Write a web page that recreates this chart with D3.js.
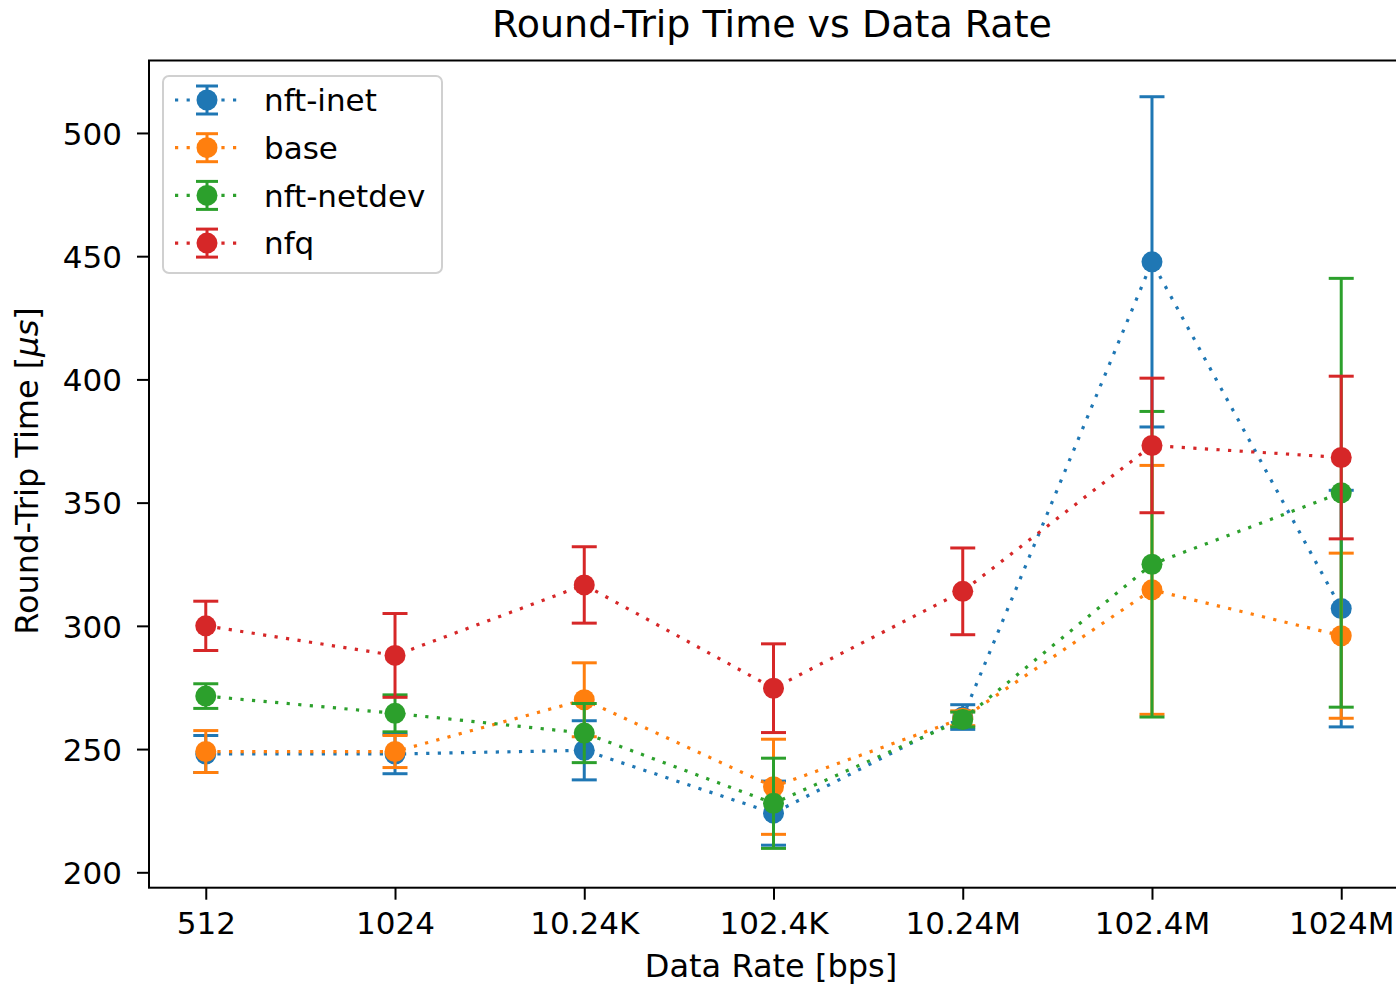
<!DOCTYPE html>
<html>
<head>
<meta charset="utf-8">
<script src="https://cdn.jsdelivr.net/npm/d3@7"></script>
<style>
  html, body { margin: 0; padding: 0; background: #fff; }
  svg { display: block; font-family: "DejaVu Sans", sans-serif; }
</style>
</head>
<body>
<svg id="chart" width="1396" height="984"></svg>
<script>
const categories = ["512", "1024", "10.24K", "102.4K", "10.24M", "102.4M", "1024M"];
const seriesNames = ["nft-inet", "base", "nft-netdev", "nfq"];
const seriesColors = ["#1f77b4", "#ff7f0e", "#2ca02c", "#d62728"];
const nftInet = [248, 248, 249.5, 224, 263, 447.7, 307];
const nftInetErr = [7.5, 8, 12, 13, 5, 67, 48];
const base = [249, 249, 270, 234.7, 262.5, 314.6, 296];
const baseErr = [8.5, 6.5, 15, 19.3, 3, 50.5, 33.5];
const nftNetdev = [271.5, 264.5, 256.5, 228, 262, 325, 354];
const nftNetdevErr = [5, 7.5, 12, 18.3, 3, 62, 87];
const nfq = [300, 288, 316.6, 274.7, 314, 373.2, 368.3];
const nfqErr = [10, 17, 15.5, 18, 17.6, 27.3, 33];
const yTicks = [200, 250, 300, 350, 400, 450, 500];

(function () {
const seriesValues = [nftInet, base, nftNetdev, nfq];
const seriesErrors = [nftInetErr, baseErr, nftNetdevErr, nfqErr];

const svg = d3.select("#chart");
const pLeft = 149, pRight = 1398, pTop = 60.5, pBottom = 887.7;

const x = d3.scalePoint().domain(categories).range([pLeft, pRight]).padding(0.3);
const y = d3.scaleLinear().domain([193.75, 529.4]).range([pBottom, pTop]);

const capHalf = 12.5, markerR = 10.5;
seriesNames.forEach((name, si) => {
  const color = seriesColors[si];
  const vals = seriesValues[si], errs = seriesErrors[si];
  const g = svg.append("g");
  const pts = categories.map((c, i) => ({ c, v: vals[i], e: errs[i] }));
  pts.forEach(p => {
    const cx = x(p.c);
    g.append("line").attr("x1", cx).attr("x2", cx)
      .attr("y1", y(p.v - p.e)).attr("y2", y(p.v + p.e))
      .attr("stroke", color).attr("stroke-width", 3);
    [p.v - p.e, p.v + p.e].forEach(cv => {
      g.append("line").attr("x1", cx - capHalf).attr("x2", cx + capHalf)
        .attr("y1", y(cv)).attr("y2", y(cv))
        .attr("stroke", color).attr("stroke-width", 3);
    });
  });
  g.append("path").datum(pts)
    .attr("d", d3.line().x(p => x(p.c)).y(p => y(p.v)))
    .attr("fill", "none").attr("stroke", color).attr("stroke-width", 3.2)
    .attr("stroke-dasharray", "3.2 8.4");
  g.selectAll("circle").data(pts).join("circle")
    .attr("cx", p => x(p.c)).attr("cy", p => y(p.v)).attr("r", markerR)
    .attr("fill", color);
});

const yAxis = d3.axisLeft(y).tickValues(yTicks).tickSize(12).tickPadding(15);
const xAxis = d3.axisBottom(x).tickSize(12).tickPadding(7);

const gy = svg.append("g").attr("transform", `translate(${pLeft},0)`).call(yAxis);
const gx = svg.append("g").attr("transform", `translate(0,${pBottom})`).call(xAxis);
[gx, gy].forEach(g => {
  g.select(".domain").remove();
  g.selectAll(".tick line").attr("stroke", "#000").attr("stroke-width", 2);
  g.selectAll(".tick text").attr("font-size", 31).attr("fill", "#000")
    .attr("font-family", "DejaVu Sans");
});
gx.selectAll(".tick text").attr("dy", "0.88em");
gy.selectAll(".tick text").attr("dy", "0.36em");

svg.append("rect").attr("x", pLeft).attr("y", pTop)
  .attr("width", pRight - pLeft).attr("height", pBottom - pTop)
  .attr("fill", "none").attr("stroke", "#000").attr("stroke-width", 2);

svg.append("text").attr("x", 772).attr("y", 37)
  .attr("text-anchor", "middle").attr("font-size", 38).attr("fill", "#000")
  .text("Round-Trip Time vs Data Rate");
svg.append("text").attr("x", 771).attr("y", 977)
  .attr("text-anchor", "middle").attr("font-size", 32).attr("fill", "#000")
  .text("Data Rate [bps]");
const yl = svg.append("text")
  .attr("transform", `translate(38,${471}) rotate(-90)`)
  .attr("text-anchor", "middle").attr("font-size", 32).attr("fill", "#000");
yl.append("tspan").text("Round-Trip Time [");
yl.append("tspan").attr("font-style", "italic").text("μs");
yl.append("tspan").text("]");

const lg = svg.append("g");
lg.append("rect").attr("x", 163).attr("y", 76).attr("width", 279).attr("height", 197)
  .attr("rx", 6).attr("fill", "#fff").attr("fill-opacity", 0.8)
  .attr("stroke", "#d0d0d0").attr("stroke-width", 2);
seriesNames.forEach((name, si) => {
  const cy = 100 + si * 47.7;
  const color = seriesColors[si];
  lg.append("line").attr("x1", 175).attr("x2", 240).attr("y1", cy).attr("y2", cy)
    .attr("stroke", color).attr("stroke-width", 3.2).attr("stroke-dasharray", "3.2 8.4");
  lg.append("line").attr("x1", 207).attr("x2", 207).attr("y1", cy - 14).attr("y2", cy + 14)
    .attr("stroke", color).attr("stroke-width", 3);
  [cy - 14, cy + 14].forEach(yy => lg.append("line")
    .attr("x1", 196).attr("x2", 218).attr("y1", yy).attr("y2", yy)
    .attr("stroke", color).attr("stroke-width", 3));
  lg.append("circle").attr("cx", 207).attr("cy", cy).attr("r", markerR).attr("fill", color);
  lg.append("text").attr("x", 264).attr("y", cy).attr("dy", "0.36em")
    .attr("font-size", 31).attr("fill", "#000").text(name);
});
})();
</script>
</body>
</html>
